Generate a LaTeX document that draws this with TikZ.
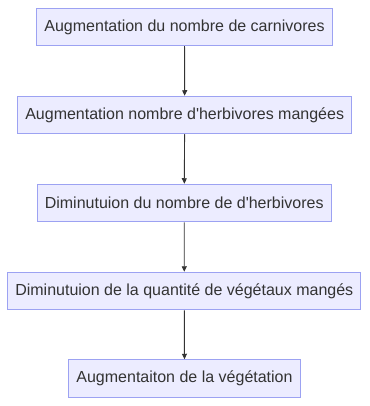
\documentclass[tikz,border=0pt]{standalone}
\usepackage{fontspec}
\setmainfont{Liberation Sans}
\usetikzlibrary{arrows.meta}
\definecolor{boxfill}{HTML}{ECECFF}
\definecolor{boxline}{HTML}{9CA2F2}
\definecolor{ink}{HTML}{333333}
\begin{document}
\begin{tikzpicture}[x=1pt,y=-1pt,
  stepbox/.style={draw=boxline, fill=boxfill, line width=1pt, minimum height=37.5pt,
    inner sep=0pt, text=ink, font=\fontsize{16}{19}\selectfont},
  flow/.style={draw=ink, line width=0.9pt, -{Triangle[length=5.5pt,width=5pt]}}]
  \useasboundingbox (0,0) rectangle (369,406);
  \node[stepbox, minimum width=295.5pt] (a) at (184.5,27) {Augmentation du nombre de carnivores};
  \node[stepbox, minimum width=334pt] (b) at (184.7,115) {Augmentation nombre d\textquotesingle herbivores mangées};
  \node[stepbox, minimum width=294pt] (c) at (184.2,203) {Diminutuion du nombre de d\textquotesingle herbivores};
  \node[stepbox, minimum width=353.3pt] (d) at (184.3,291) {Diminutuion de la quantité de végétaux mangés};
  \node[stepbox, minimum width=231.6pt] (e) at (184.5,378.5) {Augmentaiton de la végétation};
  \draw[flow] (a) -- (b);
  \draw[flow] (b) -- (c);
  \draw[flow] (c) -- (d);
  \draw[flow] (d) -- (e);
\end{tikzpicture}
\end{document}
